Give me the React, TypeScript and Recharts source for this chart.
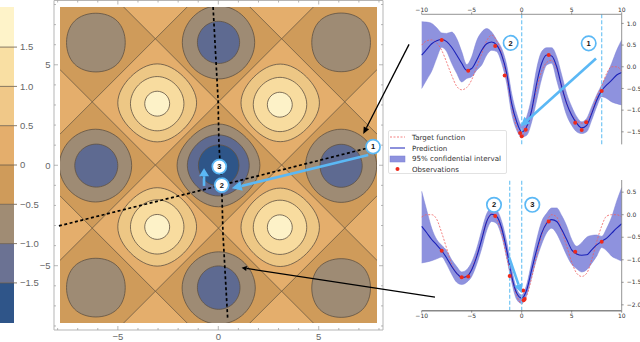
import React from "react";
import {
  Area, Bar, BarChart, ComposedChart, Legend, Line, ReferenceLine, Scatter, ScatterChart, XAxis, YAxis,
} from "recharts";

const W = 640;
const H = 342;

/* ---------- colour bar ---------- */
const barBands = [-0.51, -0.5, -0.5, -0.5, 0.5, 0.5, 0.5, 0.51];
const barOrder = [3, 2, 1, 0, 4, 5, 6, 7];
const barColors = ["#2F5589", "#6B7293", "#A08C74", "#CF9B5A", "#E4AE6C", "#F0C888", "#F9DFA3", "#FEF3C9"];
const barTicks = [-1.5, -1, -0.5, 0, 0.5, 1, 1.5];

/* ---------- contour panel ---------- */
const frameTicks = [-8, -7, -6, -5, -4, -3, -2, -1, 0, 1, 2, 3, 4, 5, 6, 7, 8];
const zeroLevel = 3.14;
const lightCentres = [
  [-3.14, 3.14], [3.14, 3.14], [-3.14, -3.14], [3.14, -3.14],
  [-3.14, 9.42], [3.14, 9.42], [-3.14, -9.42], [3.14, -9.42],
  [-9.42, 3.14], [-9.42, -3.14], [9.42, 3.14], [9.42, -3.14],
];
const zeroLines = [
  [[-7.9, -4.76], [4.76, 7.9]], [[-4.76, -7.9], [7.9, 4.76]],
  [[-7.9, 1.52], [-1.52, 7.9]], [[1.52, -7.9], [7.9, -1.52]],
  [[-4.76, 7.9], [7.9, -4.76]], [[-7.9, 4.76], [4.76, -7.9]],
  [[1.52, 7.9], [7.9, 1.52]], [[-7.9, -1.52], [-1.52, -7.9]],
];
const C_GREY = "#9E8B74";
const C_BLUE = "#5E6A91";
const C_DARK = "#2E5588";
const C_OUT = "#EDC785";
const C_MID = "#F8DC9F";
const C_IN = "#FDF2C8";
// centre x, centre y, half width, half height, diagonal reach, fill
const contours: [number, number, number, number, number, string][] = [
  [-6.1, 6.09, 1.46, 1.46, 0.73, C_GREY],
  [6.1, 6.1, 1.46, 1.46, 0.73, C_GREY],
  [-6.1, -6.1, 1.46, 1.46, 0.73, C_GREY],
  [6.1, -6.12, 1.46, 1.46, 0.73, C_GREY],
  [-6.12, -0.03, 1.8, 1.81, 0.7, C_GREY],
  [-6.08, -0.03, 1.07, 1.07, 0.707, C_BLUE],
  [6.1, -0.04, 1.77, 1.82, 0.7, C_GREY],
  [6.1, -0.04, 1.05, 1.07, 0.707, C_BLUE],
  [0, 6.1, 1.8, 1.82, 0.7, C_GREY],
  [0, 6.1, 1.05, 1.05, 0.707, C_BLUE],
  [0.01, -6.12, 1.82, 1.8, 0.7, C_GREY],
  [0.01, -6.1, 1.06, 1.08, 0.707, C_BLUE],
  [0, -0.02, 2.06, 2.06, 0.67, C_GREY],
  [-0.01, -0.02, 1.54, 1.52, 0.69, C_BLUE],
  [0.01, -0.02, 1.01, 1.02, 0.707, C_DARK],
  [-3.05, 3.09, 1.96, 1.94, 0.67, C_OUT],
  [-3.05, 3.05, 1.33, 1.35, 0.695, C_MID],
  [-3.05, 3.05, 0.62, 0.62, 0.707, C_IN],
  [3.07, 3.09, 1.95, 1.93, 0.67, C_OUT],
  [3.06, 3.01, 1.33, 1.35, 0.695, C_MID],
  [3.05, 3.0, 0.62, 0.62, 0.707, C_IN],
  [-3.05, -3.08, 1.96, 1.95, 0.67, C_OUT],
  [-3.05, -3.08, 1.33, 1.35, 0.695, C_MID],
  [-3.05, -3.08, 0.62, 0.62, 0.707, C_IN],
  [3.07, -3.1, 1.95, 1.95, 0.67, C_OUT],
  [3.06, -3.1, 1.33, 1.35, 0.695, C_MID],
  [3.05, -3.1, 0.62, 0.62, 0.707, C_IN],
];

/* ---------- annotations, in the contour panel's units ---------- */
const pathVertical = [[-0.27, 7.86], [-0.02, 3.23], [0.02, 1.09], [0.07, 0.25], [0.16, -1], [0.22, -3.38], [0.46, -7.71]];
const pathHorizontal = [[-7.94, -3.03], [0.16, -1], [7.69, 0.91]];
const arrowBig = [[7.45, 0.5], [0.66, -1.16]];
const arrowSmall = [[-0.72, -1.04], [-0.72, -0.16]];
const arrowBlackA = [[9.48, 6.0], [7.2, 1.54]];
const arrowBlackB = [[10.77, -6.57], [1.15, -5.11]];
const contourBadges = [
  { x: 7.69, y: 0.91, n: "1" },
  { x: 0.16, y: -1, n: "2" },
  { x: 0.04, y: -0.08, n: "3" },
];

/* ---------- Gaussian process panels ---------- */
const xs = [-10, -9.5, -9, -8.5, -8, -7.5, -7, -6.5, -6, -5.5, -5, -4.5, -4, -3.5, -3, -2.5, -2, -1.5, -1, -0.5, 0, 0.5, 1, 1.5, 2, 2.5, 3, 3.5, 4, 4.5, 5, 5.5, 6, 6.5, 7, 7.5, 8, 8.5, 9, 9.5, 10];

const topPred = [0.27, 0.4, 0.53, 0.6, 0.63, 0.58, 0.45, 0.27, 0.08, -0.08, -0.04, 0.15, 0.38, 0.53, 0.57, 0.5, 0.27, -0.15, -0.85, -1.27, -1.5, -1.38, -1, -0.38, 0.08, 0.27, 0.25, 0, -0.46, -0.85, -1.12, -1.3, -1.41, -1.35, -1.08, -0.77, -0.55, -0.42, -0.31, -0.19, -0.13];
const topTarget = [0.5, 0.6, 0.62, 0.55, 0.38, 0.1, -0.2, -0.45, -0.53, -0.48, -0.3, 0, 0.3, 0.6, 0.73, 0.6, 0.3, -0.25, -0.9, -1.4, -1.6, -1.4, -1, -0.5, -0.1, 0.1, 0.15, -0.05, -0.45, -0.85, -1.1, -1.25, -1.3, -1.25, -1.05, -0.7, -0.45, -0.15, 0, 0, -0.1];
const topUpper = [1.04, 1.03, 1, 0.9, 0.78, 0.77, 0.8, 0.65, 0.35, 0.05, 0.23, 0.6, 0.8, 0.88, 0.8, 0.62, 0.42, 0.04, -0.62, -1.08, -1.35, -1.15, -0.7, -0.04, 0.35, 0.44, 0.44, 0.23, -0.19, -0.62, -0.92, -1.15, -1.27, -1.19, -0.92, -0.65, -0.42, -0.19, 0.08, 0.38, 0.62];
const topLower = [-0.5, -0.3, -0.1, 0.2, 0.45, 0.35, 0.08, -0.15, -0.35, -0.27, -0.23, -0.08, 0.04, 0.27, 0.38, 0.35, 0.08, -0.38, -1.08, -1.46, -1.62, -1.58, -1.27, -0.77, -0.27, 0.04, 0.08, -0.31, -0.73, -1.12, -1.35, -1.5, -1.54, -1.5, -1.23, -0.92, -0.69, -0.73, -0.81, -0.85, -0.88];
const topObs = [[-8, 0.62], [-5.35, -0.09], [-2.65, 0.48], [-1.7, -0.2], [-0.15, -1.53], [0, -1.6], [0.4, -1.45], [2.7, 0.27], [5.35, -1.29], [6, -1.46], [6.45, -1.28], [8, -0.56]];
const topYTicks = [-1.5, -1, -0.5, 0, 0.5, 1];
const topQueries = [0, 8];

const lowPred = [-0.26, -0.4, -0.55, -0.67, -0.8, -0.96, -1.15, -1.3, -1.39, -1.37, -1.22, -0.93, -0.55, -0.15, 0.01, -0.04, -0.3, -0.78, -1.37, -1.74, -1.85, -1.67, -1.22, -0.78, -0.41, -0.19, -0.11, -0.15, -0.33, -0.55, -0.78, -0.87, -0.9, -0.89, -0.78, -0.67, -0.59, -0.52, -0.41, -0.3, -0.2];
const lowTarget = [-0.05, 0, 0, -0.1, -0.4, -0.75, -1.1, -1.3, -1.4, -1.38, -1.2, -0.9, -0.55, -0.15, 0.02, -0.1, -0.4, -0.95, -1.4, -1.8, -1.97, -1.8, -1.4, -0.9, -0.45, -0.15, 0, -0.05, -0.35, -0.7, -1.05, -1.3, -1.37, -1.3, -1, -0.6, -0.25, -0.03, 0, 0, -0.05];
const lowUpper = [0.52, 0.1, -0.3, -0.55, -0.68, -0.8, -1, -1.15, -1.27, -1.22, -1.05, -0.75, -0.35, 0.02, 0.15, 0.1, -0.15, -0.6, -1.2, -1.65, -1.78, -1.55, -1.05, -0.55, -0.15, 0.03, 0.15, 0.15, -0.02, -0.25, -0.55, -0.7, -0.62, -0.5, -0.46, -0.45, -0.48, -0.3, -0.05, 0.3, 0.6];
const lowLower = [-1.07, -1.05, -1.02, -0.98, -0.94, -1.1, -1.32, -1.5, -1.55, -1.5, -1.37, -1.1, -0.75, -0.35, -0.15, -0.2, -0.48, -0.95, -1.5, -1.88, -1.97, -1.78, -1.38, -0.98, -0.65, -0.4, -0.3, -0.42, -0.65, -0.9, -1.1, -1.2, -1.27, -1.22, -1.08, -0.92, -0.73, -0.8, -0.92, -0.98, -1.03];
const lowObs = [[-8, -0.8], [-6, -1.39], [-5.35, -1.37], [-2.65, -0.03], [-1.2, -1.36], [0.15, -1.68], [0.3, -1.87], [0.2, -1.9], [2.7, -0.15], [5.35, -0.82], [8, -0.6]];
const lowYTicks = [-2, -1.5, -1, -0.5, 0, 0.5];
const lowQueries = [-1.2, 0];

const xTicks = [-10, -5, 0, 5, 10];
const topArrow = [[7.43, 0.19], [-0.1, -1.37]];
const lowArrow = [[-1.25, -0.95], [-0.03, -1.74]];
const topBadges = [{ x: 6.7, y: 0.54, n: "1" }, { x: -1.1, y: 0.55, n: "2" }];
const lowBadges = [{ x: -2.77, y: 0.22, n: "2" }, { x: 1.06, y: 0.22, n: "3" }];

const legendNames = ["Target function", "Prediction", "95% confidential interval", "Observations"];

/* ---------- helpers ---------- */
const BLUE = "#5BB8F5";
const QUERY = "#74C6F4";
const minus = (s: string) => s.replace("-", "\u2212");
const pts = (a: number[][]) => a.map(([x, y]) => ({ x, y }));
const NoMark = () => <g />;

function contourPoints([cx, cy, rx, ry, s]: (typeof contours)[number]) {
  const c = (24 * s - 6) / 14;
  const a = 6 * s - 4 * c;
  return pts([
    [cx + a * rx, cy], [cx + c * rx, cy + c * ry], [cx, cy + a * ry], [cx - c * rx, cy + c * ry],
    [cx - a * rx, cy], [cx - c * rx, cy - c * ry], [cx, cy - a * ry], [cx + c * rx, cy - c * ry],
  ]);
}

function arrow(color: string, width: number, len: number, half: number) {
  return (p: any) => {
    const [a, b] = p.points;
    const dx = b.x - a.x;
    const dy = b.y - a.y;
    const L = Math.hypot(dx, dy);
    const ux = dx / L;
    const uy = dy / L;
    const bx = b.x - ux * len;
    const by = b.y - uy * len;
    return (
      <g>
        <line x1={a.x} y1={a.y} x2={bx} y2={by} stroke={color} strokeWidth={width} />
        <polygon
          points={`${b.x},${b.y} ${bx - uy * half},${by + ux * half} ${bx + uy * half},${by - ux * half}`}
          fill={color}
        />
      </g>
    );
  };
}

function Badge(props: any) {
  const { cx, cy, payload, r = 7 } = props;
  return (
    <g>
      <circle cx={cx} cy={cy} r={r} fill="#fff" stroke={BLUE} strokeWidth={1.7} />
      <text x={cx} y={cy + 2.6} textAnchor="middle" fontSize={7.5} fontWeight="bold" fontFamily="Liberation Sans" fill="#111">
        {payload.n}
      </text>
    </g>
  );
}

const layer: React.CSSProperties = { position: "absolute", left: 0, top: 0 };

function frameTick(side: "bottom" | "top" | "left" | "right") {
  return (p: any) => {
    const v = p.payload.value;
    const major = v === -5 || v === 0 || v === 5;
    const len = major ? 4 : 2;
    const x = p.x;
    const y = p.y;
    const s = { stroke: "#999", strokeWidth: 0.7 };
    if (side === "bottom" || side === "top") {
      const d = side === "bottom" ? -len : len;
      return (
        <g>
          <line x1={x} x2={x} y1={y} y2={y + d} {...s} />
          {side === "bottom" && major && (
            <text x={x} y={y + 10} textAnchor="middle" fontSize={9.5} fontFamily="Liberation Sans" fill="#666">
              {minus(String(v))}
            </text>
          )}
        </g>
      );
    }
    const d = side === "left" ? len : -len;
    return (
      <g>
        <line y1={y} y2={y} x1={x} x2={x + d} {...s} />
        {side === "left" && major && (
          <text x={x - 3.5} y={y + 3.5} textAnchor="end" fontSize={9.5} fontFamily="Liberation Sans" fill="#666">
            {minus(String(v))}
          </text>
        )}
      </g>
    );
  };
}

/* ---------- panels ---------- */
function ColorBar() {
  const row: Record<string, number | string> = { name: "scale" };
  barBands.forEach((v, i) => { row["b" + i] = v; });
  return (
    <div style={layer}>
      <BarChart width={W} height={H} data={[row]} stackOffset="sign" barCategoryGap={0}
        margin={{ left: 0, right: W - 15, top: 7, bottom: H - 323 }}>
        <XAxis dataKey="name" hide />
        <YAxis orientation="right" width={1} domain={[-2.01, 2.01]} ticks={barTicks} allowDataOverflow
          axisLine={false} tickSize={3} tickMargin={3} tickLine={{ stroke: "#6a5b48", strokeWidth: 0.8 }}
          tickFormatter={(v: number) => minus(v === 0 ? "0" : v.toFixed(1))}
          tick={{ fontSize: 9.5, fontFamily: "Liberation Sans", fill: "#666", textAnchor: "start" }} />
        {barOrder.map((i) => (
          <Bar key={i} dataKey={"b" + i} stackId="c" fill={barColors[i]} isAnimationActive={false} />
        ))}
        {barTicks.map((v) => (
          <ReferenceLine key={v} y={v} stroke="#6a5b48" strokeWidth={0.8} />
        ))}
      </BarChart>
    </div>
  );
}

function ContourFrame() {
  const dom: [number, number] = [-8.18, 8.2];
  const line = { stroke: "#b5b5b5", strokeWidth: 1 };
  const base = { tickSize: 0, tickMargin: 0, tickLine: false, axisLine: line, interval: 0 as const, ticks: frameTicks };
  return (
    <div style={layer}>
      <ScatterChart width={W} height={H} margin={{ left: 53, right: W - 384, top: -0.5, bottom: H - 331 }}>
        <XAxis xAxisId="b" type="number" dataKey="x" domain={dom} height={1} tick={frameTick("bottom")} {...base} />
        <XAxis xAxisId="t" type="number" dataKey="x" orientation="top" domain={dom} height={1} tick={frameTick("top")} {...base} />
        <YAxis yAxisId="l" type="number" dataKey="y" domain={[-8.2, 8.2]} width={1} tick={frameTick("left")} {...base} />
        <YAxis yAxisId="r" type="number" dataKey="y" orientation="right" domain={[-8.2, 8.2]} width={1} tick={frameTick("right")} {...base} />
        <Scatter xAxisId="b" yAxisId="l" data={pts([[0, 0]])} shape={NoMark} isAnimationActive={false} />
        <Scatter xAxisId="t" yAxisId="r" data={pts([[0, 0]])} shape={NoMark} isAnimationActive={false} />
      </ScatterChart>
    </div>
  );
}

function ContourPlot() {
  const d = zeroLevel;
  return (
    <div style={layer}>
      <ScatterChart width={W} height={H} margin={{ left: 60, right: W - 377, top: 7, bottom: H - 323 }}>
        <XAxis type="number" dataKey="x" domain={[-7.885, 7.885]} allowDataOverflow hide />
        <YAxis type="number" dataKey="y" domain={[-7.86, 7.86]} allowDataOverflow hide />
        <Scatter data={pts([[-9, -9], [9, -9], [9, 9], [-9, 9]])} shape={NoMark} lineJointType="linearClosed"
          line={{ fill: "#CF9B5A", stroke: "none" }} isAnimationActive={false} />
        {lightCentres.map(([cx, cy], i) => (
          <Scatter key={"d" + i} data={pts([[cx + d, cy], [cx, cy + d], [cx - d, cy], [cx, cy - d]])} shape={NoMark}
            lineJointType="linearClosed" line={{ fill: "#E4AE6C", stroke: "none" }} isAnimationActive={false} />
        ))}
        {zeroLines.map((l, i) => (
          <Scatter key={"z" + i} data={pts(l)} shape={NoMark} line={{ stroke: "#6d5a42", strokeWidth: 0.8 }} isAnimationActive={false} />
        ))}
        {contours.map((c, i) => (
          <Scatter key={"c" + i} data={contourPoints(c)} shape={NoMark} lineJointType="basisClosed"
            line={{ fill: c[5], stroke: "#5f5243", strokeWidth: 0.8 }} isAnimationActive={false} />
        ))}
      </ScatterChart>
    </div>
  );
}

function Annotations() {
  // the domains extend the contour panel's own scale over the whole page
  return (
    <div style={layer}>
      <ScatterChart width={W} height={H} margin={{ left: 0, right: 0, top: 0, bottom: 0 }}>
        <XAxis type="number" dataKey="x" domain={[-10.871, 20.97]} hide />
        <YAxis type="number" dataKey="y" domain={[-8.806, 8.209]} hide />
        <Scatter data={pts(pathVertical)} shape={NoMark} line={{ stroke: "#000", strokeWidth: 1.7, strokeDasharray: "3 2.5" }} isAnimationActive={false} />
        <Scatter data={pts(pathHorizontal)} shape={NoMark} line={{ stroke: "#000", strokeWidth: 1.7, strokeDasharray: "3 2.5" }} isAnimationActive={false} />
        <Scatter data={pts(arrowBlackA)} shape={NoMark} line={arrow("#000", 1.3, 7, 3)} isAnimationActive={false} />
        <Scatter data={pts(arrowBlackB)} shape={NoMark} line={arrow("#000", 1.3, 5, 2.5)} isAnimationActive={false} />
        <Scatter data={pts(arrowBig)} shape={NoMark} line={arrow(BLUE, 2.6, 10, 5)} isAnimationActive={false} />
        <Scatter data={pts(arrowSmall)} shape={NoMark} line={arrow(BLUE, 2.6, 8, 5)} isAnimationActive={false} />
        <Scatter data={contourBadges} shape={Badge} isAnimationActive={false} />
      </ScatterChart>
    </div>
  );
}

function LegendBox() {
  const Row = ({ i, children }: { i: number; children: React.ReactNode }) => (
    <div style={{ display: "flex", alignItems: "center", height: 10.7 }}>
      <svg width={22} height={10} style={{ flex: "none" }}>{children}</svg>
      <span style={{ marginLeft: 1 }}>{legendNames[i]}</span>
    </div>
  );
  return (
    <div style={{ background: "#fff", border: "1px solid #e2e2e2", borderRadius: 2, width: 119, height: 44, boxSizing: "border-box", paddingTop: 1, fontFamily: "DejaVu Sans", fontSize: 7.1, color: "#333", whiteSpace: "nowrap" }}>
      <Row i={0}><line x1={1} x2={16} y1={5} y2={5} stroke="#F06060" strokeWidth={0.8} strokeDasharray="2 1.5" /></Row>
      <Row i={1}><line x1={1} x2={16} y1={5} y2={5} stroke="#1B22B8" strokeWidth={1} /></Row>
      <Row i={2}><rect x={1} y={2} width={15} height={6} fill="#8E92DE" stroke="#7a7ed4" strokeWidth={0.5} /></Row>
      <Row i={3}><circle cx={8.5} cy={5} r={2} fill="#EE2A1C" /></Row>
    </div>
  );
}

type GP = {
  pred: number[]; target: number[]; upper: number[]; lower: number[]; obs: number[][];
  yTicks: number[]; queries: number[]; domain: [number, number];
  margin: { top: number; bottom: number }; xSide: "top" | "bottom";
  arrowPts: number[][]; badges: { x: number; y: number; n: string }[]; legend?: boolean;
};

function GPPanel(p: GP) {
  const rows = xs.map((x, i) => ({ x, pred: p.pred[i], target: p.target[i], band: [p.lower[i], p.upper[i]] }));
  const grey = { stroke: "#888", strokeWidth: p.xSide === "top" ? 0.9 : 1.4 };
  const tick = { fontSize: 6, fontFamily: "DejaVu Sans", fill: "#333" };
  const TickBadge = (b: any) => <Badge {...b} r={7.2} />;
  return (
    <div style={layer}>
      <ComposedChart width={W} height={H} data={rows}
        margin={{
          left: 421.7, right: W - 622.7,
          top: p.xSide === "top" ? p.margin.top - 1 : p.margin.top,
          bottom: H - p.margin.bottom - (p.xSide === "bottom" ? 1 : 0),
        }}>
        <XAxis type="number" dataKey="x" orientation={p.xSide} domain={[-10, 10]} ticks={xTicks} height={1}
          axisLine={grey} tickLine={{ stroke: "#555", strokeWidth: 0.6 }} tickSize={2} tickMargin={p.xSide === "top" ? 0 : 1} interval={0}
          tickFormatter={(v: number) => minus(String(v))} tick={tick} />
        <YAxis type="number" orientation="right" domain={p.domain} ticks={p.yTicks} width={1}
          axisLine={{ stroke: "#888", strokeWidth: 0.9 }} tickLine={{ stroke: "#555", strokeWidth: 0.6 }} tickSize={2} tickMargin={3} interval={0}
          tickFormatter={(v: number) => minus(v.toFixed(1))} tick={{ ...tick, textAnchor: "start" }} />
        <Area dataKey="band" type="monotone" fill="#8E92DE" fillOpacity={1} stroke="#7a7ed4" strokeWidth={0.5} dot={false} activeDot={false} isAnimationActive={false} />
        <Line dataKey="target" type="monotone" stroke="#F06060" strokeWidth={0.8} strokeDasharray="2 1.5" dot={false} activeDot={false} isAnimationActive={false} />
        <Line dataKey="pred" type="monotone" stroke="#1B22B8" strokeWidth={1.1} dot={false} activeDot={false} isAnimationActive={false} />
        {p.queries.map((q) => (
          <ReferenceLine key={q} x={q} stroke={QUERY} strokeWidth={1.2} strokeDasharray="4 2" />
        ))}
        <Scatter data={pts(p.obs)} dataKey="y" fill="#EE2A1C" shape={(s: any) => <circle cx={s.cx} cy={s.cy} r={2} fill="#EE2A1C" />} isAnimationActive={false} />
        <Scatter data={pts(p.arrowPts)} dataKey="y" shape={NoMark} line={arrow(BLUE, 2.6, 9, 4.5)} isAnimationActive={false} />
        <Scatter data={p.badges} dataKey="y" shape={TickBadge} isAnimationActive={false} />
        {p.legend && (
          <Legend layout="horizontal" verticalAlign="middle" align="center" content={() => <LegendBox />}
            wrapperStyle={{ left: 388, top: 130, width: 119, height: 44 }} />
        )}
      </ComposedChart>
    </div>
  );
}

export default function App() {
  return (
    <div style={{ position: "fixed", left: 0, top: 0, width: W, height: H, background: "#fff", overflow: "hidden" }}>
      <ColorBar />
      <ContourFrame />
      <ContourPlot />
      <GPPanel pred={lowPred} target={lowTarget} upper={lowUpper} lower={lowLower} obs={lowObs}
        yTicks={lowYTicks} queries={lowQueries} domain={[-2.13, 0.77]} margin={{ top: 180, bottom: 310.7 }}
        xSide="bottom" arrowPts={lowArrow} badges={lowBadges} />
      <GPPanel pred={topPred} target={topTarget} upper={topUpper} lower={topLower} obs={topObs}
        yTicks={topYTicks} queries={topQueries} domain={[-1.79, 1.21]} margin={{ top: 14.3, bottom: 144.4 }}
        xSide="top" arrowPts={topArrow} badges={topBadges} legend />
      <Annotations />
    </div>
  );
}
